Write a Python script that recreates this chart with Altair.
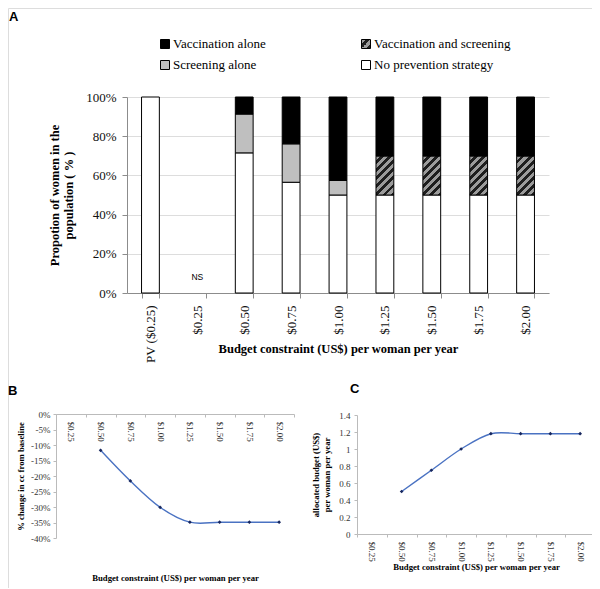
import altair as alt
import pandas as pd

# ---------------- data ----------------
categories_a = ["PV ($0.25)", "$0.25", "$0.50", "$0.75", "$1.00", "$1.25", "$1.50", "$1.75", "$2.00"]
strategies = ["Vaccination alone", "Vaccination and screening", "Screening alone", "No prevention strategy"]
no_prevention = [100, 0, 71.5, 56.5, 50, 50, 50, 50, 50]
screening_alone = [0, 0, 19.8, 19.6, 7.4, 0, 0, 0, 0]
vacc_and_screen = [0, 0, 0, 0, 0, 19.8, 19.8, 19.8, 19.8]
vacc_alone = [0, 0, 8.7, 23.9, 42.6, 30.2, 30.2, 30.2, 30.2]
ns_category = "$0.25"

categories_bc = ["$0.25", "$0.50", "$0.75", "$1.00", "$1.25", "$1.50", "$1.75", "$2.00"]
pct_change_cc = [None, -11.7, -21.6, -30.1, -34.9, -34.9, -34.9, -34.9]
allocated_budget = [None, 0.50, 0.75, 1.00, 1.18, 1.18, 1.18, 1.18]

# legend grid (row-major, two columns)
legend_col = [0, 1, 0, 1]
legend_row = [0, 0, 1, 1]

# ---------------- tables ----------------
rows = []
for i, c in enumerate(categories_a):
    start = 0.0
    for name, arr in [("No prevention strategy", no_prevention),
                      ("Screening alone", screening_alone),
                      ("Vaccination and screening", vacc_and_screen),
                      ("Vaccination alone", vacc_alone)]:
        v = arr[i]
        if v > 0:
            rows.append({"cat": c, "strategy": name, "y0": start, "y1": start + v})
            start += v
df_a = pd.DataFrame(rows)
df_plain = df_a[df_a["strategy"] != "Vaccination and screening"]
df_hatch = df_a[df_a["strategy"] == "Vaccination and screening"]
df_ns = pd.DataFrame({"cat": [ns_category], "v": [0], "t": ["NS"]})
df_leg = pd.DataFrame({"strategy": strategies, "col": legend_col, "row": legend_row})

df_b = pd.DataFrame({"cat": categories_bc, "v": pct_change_cc}).dropna()
df_c = pd.DataFrame({"cat": categories_bc, "v": allocated_budget}).dropna()

# ---------------- styling ----------------
W, H = 584, 580
SERIF = "Liberation Serif"
SANS = "Liberation Sans"
DARK = "#8c8c8c"
LIGHT = "#bbbbbb"
LINE = "#4a72c2"
MARK = "#17275e"


def stripes(n, x2, y2, light="#9b9b9b", dark="#1e1e1e", frac_dark=0.45):
    stops = []
    for k in range(n):
        s = k / n
        m = (k + 1 - frac_dark) / n
        e = (k + 1) / n
        stops += [{"offset": s, "color": light}, {"offset": m, "color": light},
                  {"offset": m, "color": dark}, {"offset": e, "color": dark}]
    return {"gradient": "linear", "x1": 0, "y1": 0, "x2": x2, "y2": y2, "stops": stops}


hatch_bar = stripes(7, 0.553, 1.205)
hatch_sym = stripes(2, 1, 1, frac_dark=0.55)

fill_scale = alt.Scale(domain=strategies, range=["black", "#555555", "#bfbfbf", "white"])

# ---- panel A ----
xa_scale = alt.Scale(domain=categories_a, range=[119, 541], paddingInner=0.62, paddingOuter=0.31)
ya_scale = alt.Scale(domain=[0, 100], range=[285, 89], nice=False)
xa = alt.X("cat:N", scale=xa_scale, sort=categories_a,
           title="Budget  constraint (US$) per woman per year",
           axis=alt.Axis(orient="bottom", offset=285 - H, labelAngle=-90, tickBand="extent",
                         labelFont=SERIF, labelFontSize=13, labelColor="#111",
                         labelPadding=7, tickSize=5, tickColor=DARK, domainColor=DARK,
                         titleFont=SERIF, titleFontSize=12.5, titleFontWeight="bold",
                         titleColor="black", titleY=55, titleBaseline="middle"))
ya = alt.Y("y0:Q", scale=ya_scale,
           title=["Propotion of women in the", "population ( % )"],
           axis=alt.Axis(orient="left", offset=-119, values=[0, 20, 40, 60, 80, 100],
                         labelExpr="datum.value + '%'", labelFont=SERIF, labelFontSize=13,
                         labelColor="#111", labelPadding=6, tickSize=5, tickColor=DARK,
                         domainColor=DARK, titleFont=SERIF, titleFontSize=12.5,
                         titleFontWeight="bold", titleColor="black", titlePadding=10,
                         titleLineHeight=14))
bars = alt.Chart(df_plain).mark_bar(stroke="black", strokeWidth=1).encode(
    x=xa, y=ya, y2="y1:Q", fill=alt.Fill("strategy:N", scale=fill_scale, legend=None))
hatched = alt.Chart(df_hatch).mark_bar(stroke="black", strokeWidth=1, fill=hatch_bar).encode(
    x=alt.X("cat:N", scale=xa_scale), y=alt.Y("y0:Q", scale=ya_scale), y2="y1:Q")
ns = alt.Chart(df_ns).mark_text(font=SANS, fontSize=8.5, dy=-16, color="black").encode(
    x=alt.X("cat:N", scale=xa_scale), y=alt.Y("v:Q", scale=ya_scale), text="t:N")
panel_a = alt.layer(bars, hatched, ns)

# ---- legend of panel A ----
xl_scale = alt.Scale(domain=[0, 1], range=[157, 358], padding=0)
yl_scale = alt.Scale(domain=[0, 1], range=[36, 57], padding=0)
xl = alt.X("col:O", scale=xl_scale, axis=None)
yl = alt.Y("row:O", scale=yl_scale, axis=None)
leg_sq = alt.Chart(df_leg).transform_filter(
    "datum.strategy !== 'Vaccination and screening'"
).mark_square(size=81, stroke="black", strokeWidth=1, opacity=1).encode(
    x=xl, y=yl, fill=alt.Fill("strategy:N", scale=fill_scale, legend=None))
leg_hatch = alt.Chart(df_leg).transform_filter(
    "datum.strategy === 'Vaccination and screening'"
).mark_square(size=81, stroke="black", strokeWidth=1, opacity=1, fill=hatch_sym).encode(
    x=alt.X("col:O", scale=xl_scale, axis=None), y=alt.Y("row:O", scale=yl_scale, axis=None))
leg_txt = alt.Chart(df_leg).mark_text(
    font=SERIF, fontSize=13, align="left", baseline="middle", dx=8, color="black"
).encode(x=alt.X("col:O", scale=xl_scale, axis=None),
         y=alt.Y("row:O", scale=yl_scale, axis=None), text="strategy:N")
legend_a = alt.layer(leg_sq, leg_hatch, leg_txt)

# ---- panel B ----
xb_scale = alt.Scale(domain=categories_bc, range=[48, 286], paddingInner=0, paddingOuter=0)
yb_scale = alt.Scale(domain=[-40, 0], range=[530, 406], nice=False)
xb = alt.X("cat:N", scale=xb_scale, sort=categories_bc,
           title="Budget constraint (US$) per woman per year",
           axis=alt.Axis(orient="bottom", offset=406 - H, labelAngle=90, tickBand="extent",
                         labelFont=SERIF, labelFontSize=9, labelColor="#333",
                         labelPadding=4, tickSize=3, tickColor=LIGHT, domainColor=LIGHT,
                         titleFont=SERIF, titleFontSize=8.7, titleFontWeight="bold",
                         titleColor="black", titleY=163, titleBaseline="middle"))
yb = alt.Y("v:Q", scale=yb_scale, title="% change in cc from baseline",
           axis=alt.Axis(orient="left", offset=-48, values=list(range(-40, 1, 5)),
                         labelExpr="datum.value + '%'", labelFont=SERIF, labelFontSize=9,
                         labelColor="#333", labelPadding=3, tickSize=3, tickColor=LIGHT,
                         domainColor=LIGHT, titleFont=SERIF, titleFontSize=8.7,
                         titleFontWeight="bold", titleColor="black", titlePadding=5))
line_b = alt.Chart(df_b).mark_line(interpolate="cardinal", color=LINE, strokeWidth=1.4).encode(
    x=xb, y=yb)
pts_b = alt.Chart(df_b).mark_point(filled=True, shape="diamond", size=14, color=MARK, opacity=1).encode(
    x=alt.X("cat:N", scale=xb_scale), y=alt.Y("v:Q", scale=yb_scale))
panel_b = alt.layer(line_b, pts_b)

# ---- panel C ----
xc_scale = alt.Scale(domain=categories_bc, range=[349, 587], paddingInner=0, paddingOuter=0)
yc_scale = alt.Scale(domain=[0, 1.4], range=[526, 407], nice=False)
xc = alt.X("cat:N", scale=xc_scale, sort=categories_bc,
           title="Budget constraint (US$) per woman per year",
           axis=alt.Axis(orient="bottom", offset=526 - H, labelAngle=90, tickBand="extent",
                         labelFont=SERIF, labelFontSize=9, labelColor="#333",
                         labelPadding=4, tickSize=3, tickColor=LIGHT, domainColor=LIGHT,
                         titleFont=SERIF, titleFontSize=8.7, titleFontWeight="bold",
                         titleColor="black", titlePadding=1))
yc = alt.Y("v:Q", scale=yc_scale, title=["allocated budget (US$)", "per woman per year"],
           axis=alt.Axis(orient="left", offset=-349,
                         values=[0, 0.2, 0.4, 0.6, 0.8, 1.0, 1.2, 1.4], format="~g",
                         labelFont=SERIF, labelFontSize=9, labelColor="#333",
                         labelPadding=4, tickSize=3, tickColor=LIGHT, domainColor=LIGHT,
                         titleFont=SERIF, titleFontSize=8.7, titleFontWeight="bold",
                         titleColor="black", titlePadding=7, titleLineHeight=11))
line_c = alt.Chart(df_c).mark_line(interpolate="cardinal", color=LINE, strokeWidth=1.4).encode(
    x=xc, y=yc)
pts_c = alt.Chart(df_c).mark_point(filled=True, shape="diamond", size=14, color=MARK, opacity=1).encode(
    x=alt.X("cat:N", scale=xc_scale), y=alt.Y("v:Q", scale=yc_scale))
panel_c = alt.layer(line_c, pts_c)


# ---- panel letters ----
def letter(t, x, y):
    return alt.Chart(pd.DataFrame({"t": [t]})).mark_text(
        font=SANS, fontWeight="bold", fontSize=13, align="left", baseline="top", color="black"
    ).encode(text="t:N", x=alt.value(x), y=alt.value(y))


chart = alt.layer(
    panel_a, legend_a, panel_b, panel_c,
    letter("A", 1, 3), letter("B", 0, 377), letter("C", 342, 375)
).resolve_scale(x="independent", y="independent").properties(
    width=W, height=H, padding=0,
    autosize=alt.AutoSizeParams(type="none")
).configure_view(stroke=None).configure_axis(grid=False).configure(background="white")

chart.save("out.html", embed_options={"renderer": "svg", "actions": False})
